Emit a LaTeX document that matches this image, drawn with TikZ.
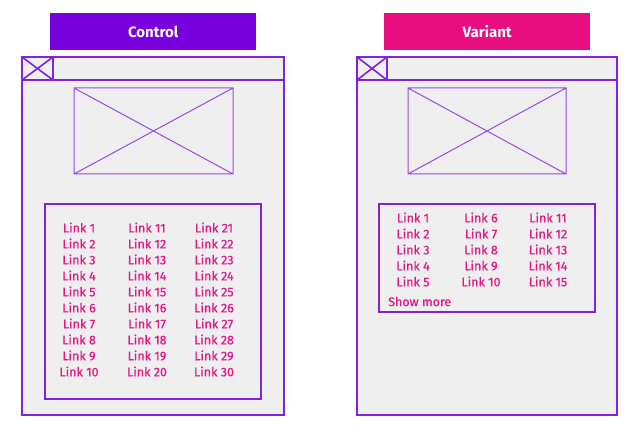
\documentclass[tikz,border=0pt]{standalone}
\usepackage{fontspec}
\setmainfont{Fira Sans}
\newfontfamily\linkfont[FakeBold=0.7]{Fira Sans}
\usetikzlibrary{positioning}
\definecolor{ctrlc}{RGB}{119,0,221}
\definecolor{varc}{RGB}{232,14,128}
\definecolor{wire}{RGB}{128,34,228}
\definecolor{wirelt}{RGB}{150,75,232}
\definecolor{linkc}{RGB}{230,22,135}
\definecolor{pane}{RGB}{239,239,239}

\begin{document}
\begin{tikzpicture}[x=1pt,y=-1pt,
  titlebox/.style={minimum width=206pt,minimum height=37pt,inner sep=0pt,text=white,font=\bfseries\fontsize{15}{17}\selectfont},
  lnk/.style={text=linkc,font=\linkfont\fontsize{12.5}{14}\selectfont,inner sep=0pt},
  wframe/.style={draw=wire,line width=1.6pt,fill=pane},
  wimg/.style={draw=wirelt,line width=1pt}]
  \useasboundingbox (0,0) rectangle (638,433);
  % control page
  \begin{scope}[xshift=22pt]
    \node[titlebox,fill=ctrlc,anchor=north west] (ctitle) at (28,13) {Control};
    \draw[wframe] (0,57) rectangle (262,415);
    \draw[wframe] (0,57) rectangle (262,80);
    \draw[wframe] (0,57) rectangle (31,80) (0,57) -- (31,80) (31,57) -- (0,80);
    \draw[wimg] (52,88) rectangle (211,174) (52,88) -- (211,174) (211,88) -- (52,174);
    \draw[draw=wire,line width=1.4pt] (23,204) rectangle (239,399);
    \foreach \c/\x in {0/57,1/125,2/192} {
      \foreach \r in {1,...,10} {\pgfmathtruncatemacro{\n}{\c*10+\r}
        \node[lnk] (cl\n) at (\x,211.5+16*\r) {Link \n};}}
  \end{scope}
  % variant page
  \begin{scope}[xshift=357pt]
    \node[titlebox,fill=varc,anchor=north west] (vtitle) at (27,13) {Variant};
    \draw[wframe] (0,57) rectangle (260,415);
    \draw[wframe] (0,57) rectangle (260,80);
    \draw[wframe] (0,57) rectangle (30,80) (0,57) -- (30,80) (30,57) -- (0,80);
    \draw[wimg] (51,88) rectangle (209,174) (51,88) -- (209,174) (209,88) -- (51,174);
    \draw[draw=wire,line width=1.4pt] (22,204) rectangle (238,312);
    \foreach \c/\x in {0/56,1/124,2/191} {
      \foreach \r in {1,...,5} {\pgfmathtruncatemacro{\n}{\c*5+\r}
        \node[lnk] (vl\n) at (\x,201.5+16*\r) {Link \n};}}
    \node[lnk,anchor=west] (vmore) at (31,301.5) {Show more};
  \end{scope}
\end{tikzpicture}
\end{document}
